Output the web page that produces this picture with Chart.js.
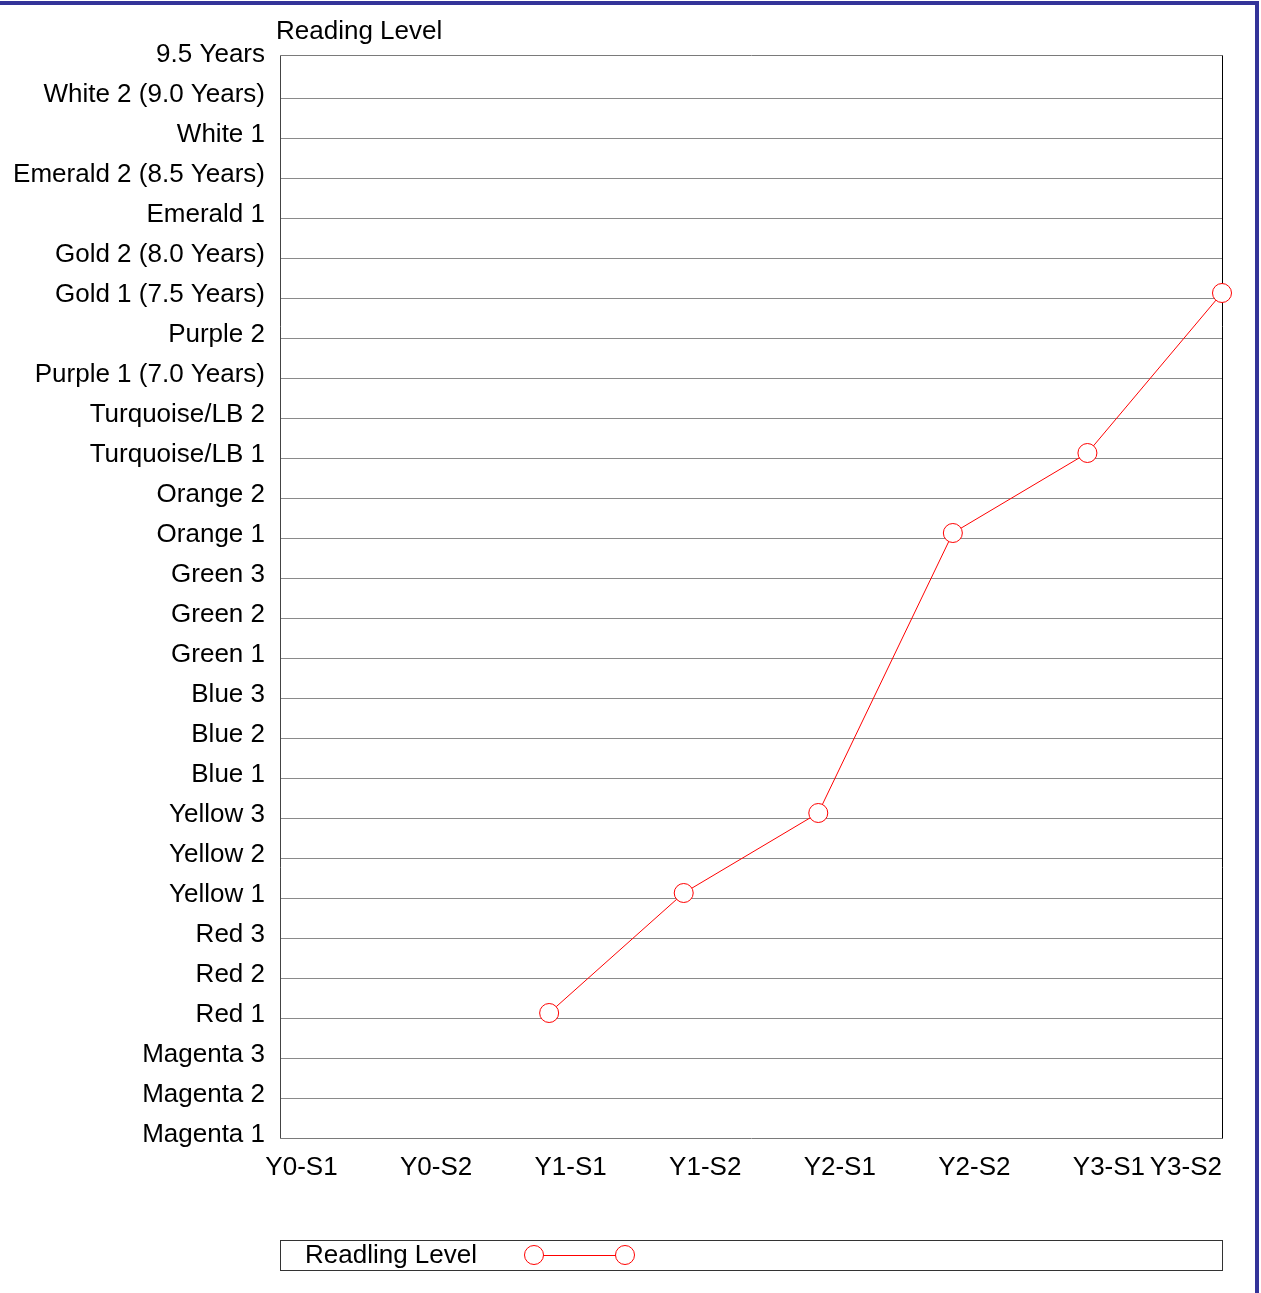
<!DOCTYPE html>
<html>
<head>
<meta charset="utf-8">
<script src="https://cdn.jsdelivr.net/npm/chart.js@4"></script>
<style>
  html, body { margin: 0; padding: 0; background: #fff; }
  #wrap { position: relative; width: 1261px; height: 1293px; }
  #frame { position: absolute; left: 0; top: 1px; width: 1255px; height: 1300px;
           border-top: 4px solid #333399; border-right: 4px solid #333399; pointer-events: none; }
</style>
</head>
<body>
<div id="wrap">
  <canvas id="c"></canvas>
  <div id="frame"></div>
</div>
<script>
const xLabels = ['Y0-S1', 'Y0-S2', 'Y1-S1', 'Y1-S2', 'Y2-S1', 'Y2-S2', 'Y3-S1', 'Y3-S2'];
const yLabels = [
  'Magenta 1', 'Magenta 2', 'Magenta 3',
  'Red 1', 'Red 2', 'Red 3',
  'Yellow 1', 'Yellow 2', 'Yellow 3',
  'Blue 1', 'Blue 2', 'Blue 3',
  'Green 1', 'Green 2', 'Green 3',
  'Orange 1', 'Orange 2',
  'Turquoise/LB 1', 'Turquoise/LB 2',
  'Purple 1 (7.0 Years)', 'Purple 2',
  'Gold 1 (7.5 Years)', 'Gold 2 (8.0 Years)',
  'Emerald 1', 'Emerald 2 (8.5 Years)',
  'White 1', 'White 2 (9.0 Years)',
  '9.5 Years'
];
const readingLevel = [null, null, 'Red 1', 'Yellow 1', 'Yellow 3', 'Orange 1', 'Turquoise/LB 1', 'Gold 1 (7.5 Years)'];
const seriesName = 'Readling Level';
const axisTitle = 'Reading Level';

const FAMILY = '"Liberation Sans", Arial, sans-serif';
const FONT = '26px ' + FAMILY;
const RED = '#ff0000';
const GRID_SHIFT = 0.125;

const decor = {
  id: 'decor',
  beforeDatasetsDraw(chart) {
    const ctx = chart.ctx, a = chart.chartArea, y = chart.scales.y;
    ctx.save();
    ctx.lineWidth = 1;
    ctx.strokeStyle = '#8a8a8a';
    for (let k = 1; k < yLabels.length - 1; k++) {
      const py = Math.round(y.getPixelForValue(k - GRID_SHIFT)) + 0.5;
      ctx.beginPath(); ctx.moveTo(a.left, py); ctx.lineTo(a.right, py); ctx.stroke();
    }
    ctx.strokeStyle = '#7a7a7a';
    const L = Math.round(a.left) + 0.5, R = Math.round(a.right) + 0.5,
          T = Math.round(a.top) + 0.5, B = Math.round(a.bottom) + 0.5;
    ctx.beginPath(); ctx.moveTo(L, T); ctx.lineTo(R, T); ctx.stroke();
    ctx.beginPath(); ctx.moveTo(L, B); ctx.lineTo(R, B); ctx.stroke();
    ctx.strokeStyle = '#444';
    ctx.beginPath(); ctx.moveTo(L, T); ctx.lineTo(L, B); ctx.stroke();
    ctx.strokeStyle = '#000';
    ctx.beginPath(); ctx.moveTo(R, T); ctx.lineTo(R, B); ctx.stroke();
    ctx.restore();
  },
  afterDraw(chart) {
    const ctx = chart.ctx, a = chart.chartArea, x = chart.scales.x;
    const ds = chart.data.datasets[0];
    ctx.save();
    ctx.font = FONT;
    ctx.fillStyle = '#000';
    ctx.textAlign = 'left';
    ctx.textBaseline = 'middle';
    ctx.fillText(axisTitle, a.left - 4, 32);
    ctx.textAlign = 'center';
    xLabels.forEach((lab, i) => {
      const w = ctx.measureText(lab).width;
      let cx = x.getPixelForValue(i) + 21.5;
      if (cx + w / 2 > a.right) cx = a.right - w / 2;
      ctx.fillText(lab, cx, a.bottom + 30);
    });
    const ly = 1255;
    ctx.strokeStyle = '#333';
    ctx.lineWidth = 1;
    ctx.strokeRect(Math.round(a.left) + 0.5, 1240.5, Math.round(a.right - a.left), 30);
    ctx.textAlign = 'left';
    ctx.fillText(ds.label, 305, ly + 1);
    ctx.strokeStyle = ds.borderColor;
    ctx.beginPath(); ctx.moveTo(534, ly + 0.5); ctx.lineTo(625, ly + 0.5); ctx.stroke();
    [534, 625].forEach(px => {
      ctx.beginPath();
      ctx.arc(px, ly, ds.pointRadius, 0, Math.PI * 2);
      ctx.fillStyle = '#fff'; ctx.fill();
      ctx.strokeStyle = ds.pointBorderColor; ctx.stroke();
    });
    ctx.restore();
  }
};

new Chart(document.getElementById('c'), {
  type: 'line',
  data: {
    labels: xLabels,
    datasets: [{
      label: seriesName,
      data: readingLevel.map(v => v === null ? null : yLabels.indexOf(v)),
      borderColor: RED,
      borderWidth: 1,
      pointRadius: 9.5,
      pointHoverRadius: 9.5,
      pointBackgroundColor: '#fff',
      pointBorderColor: RED,
      pointBorderWidth: 1,
      tension: 0,
      spanGaps: false,
      clip: false
    }]
  },
  options: {
    responsive: true,
    maintainAspectRatio: false,
    animation: false,
    events: [],
    layout: { padding: { top: 55, right: 39, bottom: 0, left: 0 } },
    plugins: { legend: { display: false }, title: { display: false }, tooltip: { enabled: false } },
    scales: {
      x: {
        type: 'category',
        offset: false,
        grid: { display: false },
        border: { display: false },
        ticks: { display: false },
        afterFit(s) { s.height = 155; }
      },
      y: {
        type: 'linear',
        min: -GRID_SHIFT,
        max: 26.95,
        grid: { display: false, drawTicks: false },
        border: { display: false },
        afterBuildTicks(s) { s.ticks = yLabels.map((_, i) => ({ value: i })); },
        ticks: {
          padding: 15,
          labelOffset: 2,
          color: '#000',
          font: { family: FAMILY, size: 26 },
          autoSkip: false,
          callback: v => yLabels[v]
        },
        afterFit(s) { s.width = 280; }
      }
    }
  },
  plugins: [decor]
});
</script>
</body>
</html>
